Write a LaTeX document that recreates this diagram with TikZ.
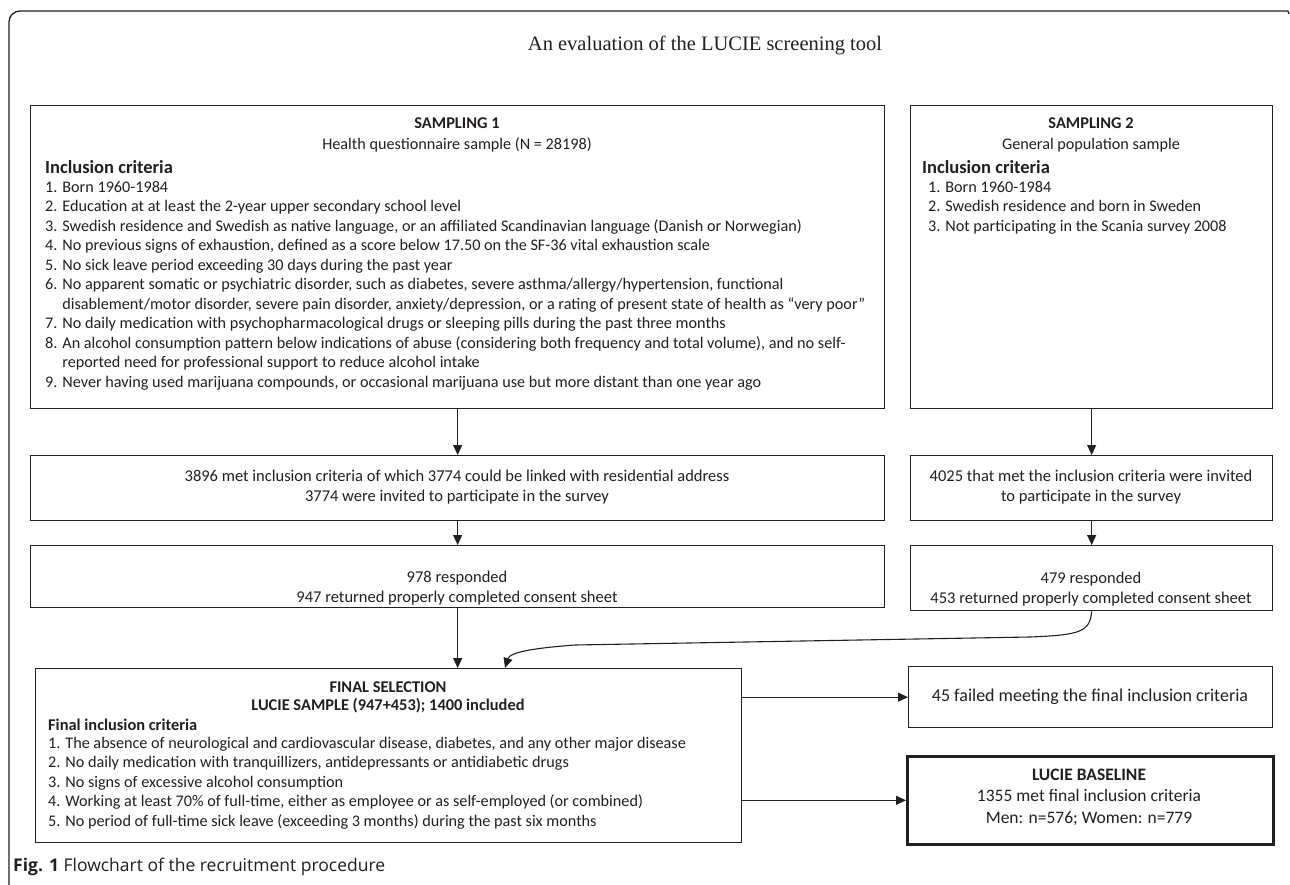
\documentclass[tikz,border=0pt]{standalone}
\usepackage{fontspec}
\setmainfont{Carlito}
\newfontfamily\titlefont{Liberation Serif}
\newfontfamily\capfont{Open Sans}
\usetikzlibrary{arrows.meta}
\definecolor{ink}{HTML}{231F20}
\begin{document}
\begin{tikzpicture}[x=1pt,y=-1pt,
  boxline/.style={draw=ink,line width=1.3pt,inner sep=0pt,anchor=north west},
  txt/.style={inner sep=0pt,text=ink,font=\fontsize{16.2}{19.5}\selectfont},
  mid/.style={inner sep=0pt,text=ink,align=center,font=\fontsize{16.5}{20}\selectfont},
  head/.style={inner sep=0pt,text=ink,font=\fontsize{16.4}{19.5}\selectfont\bfseries},
  flow/.style={draw=ink,line width=1.1pt,-{Triangle[length=10pt,width=9pt]}},
]
\useasboundingbox (0,0) rectangle (1290,885);
\fill[white] (0,0) rectangle (1290,885);
% outer frame
\coordinate (fr1) at (1288,11);
\coordinate (fr2) at (9,11);
\coordinate (fr3) at (9,900);
\coordinate (fr0) at (1289,14);
\draw[ink,line width=1.3pt,rounded corners=11pt] (fr1) -- (fr2) -- (fr3);
\draw[ink,line width=1.3pt] (fr1) -- (fr0);
% title
\node[inner sep=0pt,text=ink,font=\titlefont\fontsize{20.5}{23}\selectfont] (title) at (705,45) {An evaluation of the LUCIE screening tool};
% boxes
\node[boxline,minimum width=854pt,minimum height=303pt] (s1) at (30,105) {};
\node[boxline,minimum width=362pt,minimum height=303pt] (s2) at (910,105) {};
\node[boxline,minimum width=854pt,minimum height=65pt] (a1) at (30,455) {};
\node[boxline,minimum width=362pt,minimum height=65pt] (a2) at (910,455) {};
\node[boxline,minimum width=854pt,minimum height=62pt] (c1) at (30,545) {};
\node[boxline,minimum width=362pt,minimum height=65pt] (c2) at (910,545) {};
\node[boxline,minimum width=706pt,minimum height=174pt] (fin) at (35,668) {};
\node[boxline,minimum width=364pt,minimum height=61pt] (fail) at (908,666) {};
\node[boxline,line width=2.6pt,minimum width=366pt,minimum height=88pt] (base) at (906,755) {};
% sampling 1
\node[head] (s1h1) at (457,123) {SAMPLING 1};
\node[txt] (s1h2) at (457,145) {Health questionnaire sample (N = 28198)};
\node[head,font=\fontsize{18.5}{20}\selectfont\bfseries,anchor=west] (s1inc) at (45,167) {Inclusion criteria};
\node[txt,anchor=north west,align=left] (s1list) at (45,181) {1. Born 1960-1984\\
2. Education at at least the 2-year upper secondary school level\\
3. Swedish residence and Swedish as native language, or an affiliated Scandinavian language (Danish or Norwegian)\\
4. No previous signs of exhaustion, defined as a score below 17.50 on the SF-36 vital exhaustion scale\\
5. No sick leave period exceeding 30 days during the past year\\
6. No apparent somatic or psychiatric disorder, such as diabetes, severe asthma/allergy/hypertension, functional\\
\phantom{6. }disablement/motor disorder, severe pain disorder, anxiety/depression, or a rating of present state of health as “very poor”\\
7. No daily medication with psychopharmacological drugs or sleeping pills during the past three months\\
8. An alcohol consumption pattern below indications of abuse (considering both frequency and total volume), and no self-\\
\phantom{8. }reported need for professional support to reduce alcohol intake\\
9. Never having used marijuana compounds, or occasional marijuana use but more distant than one year ago};
% sampling 2
\node[head] (s2h1) at (1091,123) {SAMPLING 2};
\node[txt] (s2h2) at (1091,145) {General population sample};
\node[head,font=\fontsize{18.5}{20}\selectfont\bfseries,anchor=west] (s2inc) at (922,167) {Inclusion criteria};
\node[txt,anchor=north west,align=left] (s2list) at (928,181) {1. Born 1960-1984\\
2. Swedish residence and born in Sweden\\
3. Not participating in the Scania survey 2008};
% middle boxes
\node[mid] (a1t) at (457,487) {3896 met inclusion criteria of which 3774 could be linked with residential address\\3774 were invited to participate in the survey};
\node[mid] (a2t) at (1091,487) {4025 that met the inclusion criteria were invited\\to participate in the survey};
\node[mid] (c1t) at (457,588) {978 responded\\947 returned properly completed consent sheet};
\node[mid] (c2t) at (1091,589) {479 responded\\453 returned properly completed consent sheet};
% final selection
\node[head] (fh1) at (388,687) {FINAL SELECTION};
\node[head] (fh2) at (388,706) {LUCIE SAMPLE (947+453); 1400 included};
\node[head,anchor=west] (finc) at (48,725) {Final inclusion criteria};
\node[txt,anchor=north west,align=left] (flist) at (48,737) {1. The absence of neurological and cardiovascular disease, diabetes, and any other major disease\\
2. No daily medication with tranquillizers, antidepressants or antidiabetic drugs\\
3. No signs of excessive alcohol consumption\\
4. Working at least 70\% of full-time, either as employee or as self-employed (or combined)\\
5. No period of full-time sick leave (exceeding 3 months) during the past six months};
% right outcome boxes
\node[inner sep=0pt,text=ink,font=\fontsize{18}{20}\selectfont] (failt) at (1090,697) {45 failed meeting the final inclusion criteria};
\node[inner sep=0pt,text=ink,align=center,font=\fontsize{17.5}{21.5}\selectfont] (baset) at (1089,797) {\textbf{LUCIE BASELINE}\\1355 met final inclusion criteria\\Men: n=576; Women: n=779};
% caption
\node[inner sep=0pt,text=ink,anchor=west,font=\capfont\fontsize{17.5}{20}\selectfont] (cap) at (13,867) {\textbf{Fig. 1} Flowchart of the recruitment procedure};
% connectors
\coordinate (finin) at (505,668);
\draw[flow] (s1.south) -- (a1.north);
\draw[flow] (s2.south) -- (a2.north);
\draw[flow] (a1.south) -- (c1.north);
\draw[flow] (a2.south) -- (c2.north);
\draw[flow] (c1.south) -- (c1.south |- fin.north);
\draw[flow] (c2.south) .. controls (1090,632) and (1080,635) .. (1030,637) -- (575,645) .. controls (535,648) and (510,652) .. (finin);
\draw[flow] (fin.east |- fail.west) -- (fail.west);
\draw[flow] (fin.east |- base.west) -- (base.west);
\end{tikzpicture}
\end{document}
